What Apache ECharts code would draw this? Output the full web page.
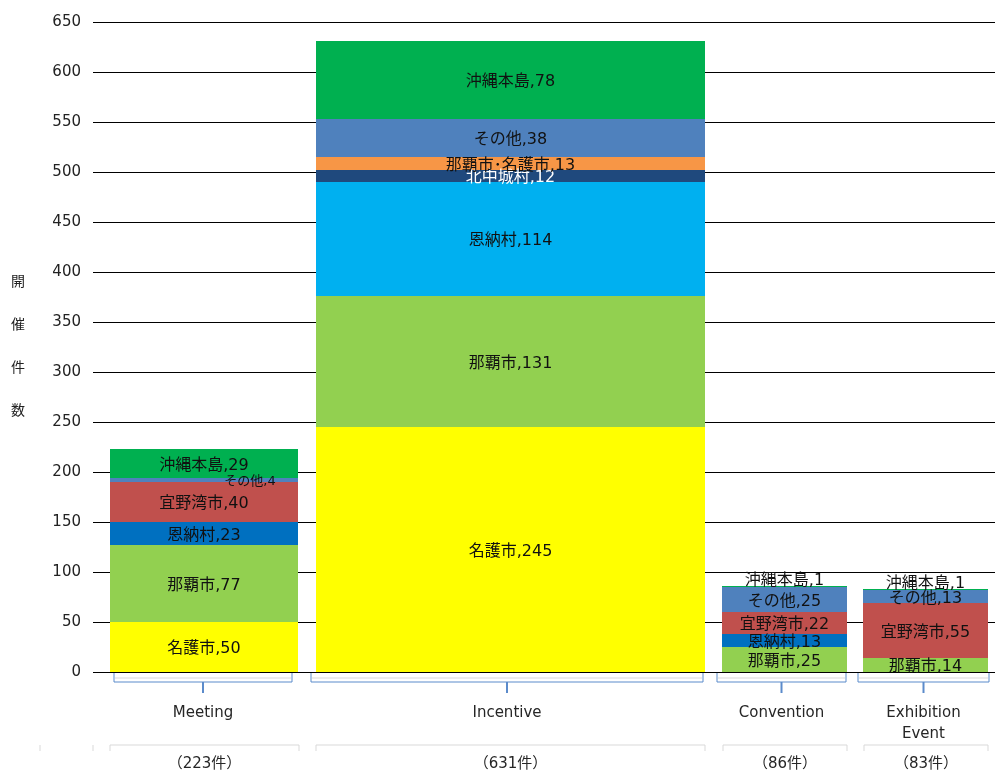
<!DOCTYPE html>
<html><head><meta charset="utf-8">
<script src="https://cdn.jsdelivr.net/npm/echarts@6/dist/echarts.min.js"></script>
<style>html,body{margin:0;padding:0;background:#fff}#c{width:995px;height:772px}</style>
</head><body><div id="c"></div><script>
// ---- data ----
const categories = ['Meeting', 'Incentive', 'Convention', 'Exhibition\nEvent'];
const totalLabels = ['（223件）', '（631件）', '（86件）', '（83件）'];
const yAxisTitle = '開催件数';

const meetingNames = ['名護市', '那覇市', '恩納村', '宜野湾市', 'その他', '沖縄本島'];
const meetingValues = [50, 77, 23, 40, 4, 29];
const incentiveNames = ['名護市', '那覇市', '恩納村', '北中城村', '那覇市･名護市', 'その他', '沖縄本島'];
const incentiveValues = [245, 131, 114, 12, 13, 38, 78];
const conventionNames = ['那覇市', '恩納村', '宜野湾市', 'その他', '沖縄本島'];
const conventionValues = [25, 13, 22, 25, 1];
const exhibitionNames = ['那覇市', '宜野湾市', 'その他', '沖縄本島'];
const exhibitionValues = [14, 55, 13, 1];

const segmentNames = [meetingNames, incentiveNames, conventionNames, exhibitionNames];
const segmentValues = [meetingValues, incentiveValues, conventionValues, exhibitionValues];

// ---- styles / layout ----
const colorMap = {
  '名護市': '#FFFF00', '那覇市': '#92D050', '恩納村': '#0070C0', '宜野湾市': '#C0504D',
  'その他': '#4F81BD', '沖縄本島': '#00B050', '北中城村': '#1F497D', '那覇市･名護市': '#F79646'
};
const colorOverride = { '1|恩納村': '#00B0F0' };
const textOverride = { '1|北中城村': '#FFFFFF' };
const labelStyleOverride = {
  '0|その他': { dx: 46, size: 13 },
  '2|沖縄本島': { above: true },
  '3|沖縄本島': { above: true }
};
// x extents in axis units (axis 0..902)
const barSpans = [[17, 205], [223, 612], [629, 754], [770, 895]];
const bracketSpans = [[21, 199], [218, 610], [624, 753], [765, 896]];
const boxSpans = [[17, 206], [223, 612], [630, 754], [771, 895]];
const FONT = '"DejaVu Sans", "Noto Sans CJK JP", sans-serif';

// build stacked segment items
const segData = [];
segmentNames.forEach((names, i) => {
  let acc = 0;
  names.forEach((n, j) => {
    const v = segmentValues[i][j];
    segData.push({ value: [i, acc, acc + v, v], name: n });
    acc += v;
  });
});

const chart = echarts.init(document.getElementById('c'));
chart.setOption({
  animation: false,
  grid: { left: 93, right: 0, top: 22, bottom: 100 },
  xAxis: { type: 'value', min: 0, max: 902, show: false },
  yAxis: {
    type: 'value', min: 0, max: 650, interval: 50,
    axisLine: { show: false }, axisTick: { show: false },
    axisLabel: { color: '#222', fontSize: 15, fontFamily: FONT, margin: 12 },
    splitLine: { lineStyle: { color: '#000', width: 1 } },
    name: yAxisTitle.split('').join('\n'),
    nameLocation: 'middle', nameRotate: 0, nameGap: 75,
    nameTextStyle: { color: '#222', fontSize: 14, fontFamily: FONT, lineHeight: 43, align: 'center' }
  },
  series: [
    {
      type: 'custom',
      data: segData,
      clip: false,
      renderItem: function (params, api) {
        const d = segData[params.dataIndex];
        const i = d.value[0], s = d.value[1], e = d.value[2], v = d.value[3];
        const span = barSpans[i];
        const p0 = api.coord([span[0], s]);
        const p1 = api.coord([span[1], e]);
        const x = p0[0], y = p1[1], w = p1[0] - p0[0], h = p0[1] - p1[1];
        const key = i + '|' + d.name;
        const fill = colorOverride[key] || colorMap[d.name];
        const ov = labelStyleOverride[key] || {};
        let cx = x + w / 2 + (ov.dx || 0);
        let cy = (ov.above ? y - 7 : y + h / 2) + 2;
        return {
          type: 'group',
          children: [
            { type: 'rect', shape: { x: x, y: y, width: w, height: h }, style: { fill: fill } },
            {
              type: 'text', x: cx, y: cy, z2: 100,
              style: {
                text: d.name + ',' + v, fill: textOverride[key] || '#111',
                font: (ov.size || 16) + 'px ' + FONT, align: 'center', verticalAlign: 'middle'
              }
            }
          ]
        };
      }
    },
    {
      type: 'custom',
      data: categories.map((c, i) => [i]),
      clip: false,
      silent: true,
      renderItem: function (params, api) {
        const i = params.dataIndex;
        const b = bracketSpans[i], bx = boxSpans[i];
        const base = api.coord([0, 0])[1];
        const bl = api.coord([b[0], 0])[0], br = api.coord([b[1], 0])[0];
        const cx = (bl + br) / 2;
        const xl = api.coord([bx[0], 0])[0], xr = api.coord([bx[1], 0])[0];
        const bcx = (xl + xr) / 2;
        const children = [
          { type: 'line', shape: { x1: bl + 1, y1: base + 6, x2: br - 1, y2: base + 6 }, style: { stroke: '#D9D9D9', lineWidth: 1 } },
          { type: 'polyline', shape: { points: [[bl, base + 1], [bl, base + 10], [br, base + 10], [br, base + 1]] }, style: { stroke: '#5B8BCB', lineWidth: 1, fill: null } },
          { type: 'line', shape: { x1: cx, y1: base + 10, x2: cx, y2: base + 21 }, style: { stroke: '#5B8BCB', lineWidth: 2 } },
          { type: 'text', x: cx, y: base + 31, style: { text: categories[i], fill: '#262626', font: '15px ' + FONT, align: 'center', verticalAlign: 'top', lineHeight: 21 } },
          { type: 'polyline', shape: { points: [[xl, base + 79], [xl, base + 73], [xr, base + 73], [xr, base + 79]] }, style: { stroke: '#D9D9D9', lineWidth: 1, fill: null } },
          { type: 'text', x: bcx, y: base + 92, style: { text: totalLabels[i], fill: '#262626', font: '15px ' + FONT, align: 'center', verticalAlign: 'middle' } }
        ];
        if (i === 0) {
          [-53, 0].forEach(u => {
            const tx = api.coord([u, 0])[0];
            children.push({ type: 'line', shape: { x1: tx, y1: base + 73, x2: tx, y2: base + 79 }, style: { stroke: '#D9D9D9', lineWidth: 1 } });
          });
        }
        return { type: 'group', children: children };
      }
    }
  ]
});
</script></body></html>
